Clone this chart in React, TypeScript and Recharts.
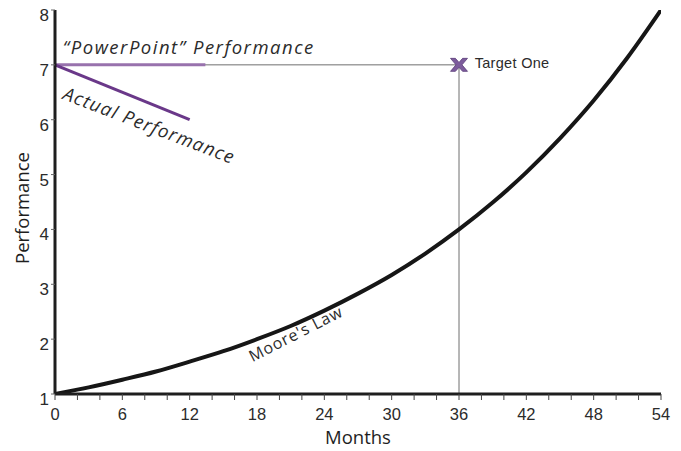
import React from 'react';
import {
  ComposedChart,
  Line,
  Scatter,
  XAxis,
  YAxis,
  ReferenceLine,
  ReferenceDot,
  Label,
} from 'recharts';

// Moore's Law curve (months, performance)
const mooreMonths = [0, 3, 6, 9, 12, 15, 18, 21, 24, 27, 30, 33, 36, 39, 42, 45, 48, 51, 54];
const mooreValues = [1, 1.12, 1.26, 1.41, 1.59, 1.78, 2, 2.24, 2.52, 2.83, 3.17, 3.56, 4, 4.49, 5.04, 5.66, 6.35, 7.13, 8];

const powerPointMonths = [0, 13.4];
const powerPointValues = [7, 7];

const actualMonths = [0, 12];
const actualValues = [7, 6];

const targetMonths = [36];
const targetValues = [7];

const monthTicks = [0, 2, 4, 6, 8, 10, 12, 14, 16, 18, 20, 22, 24, 26, 28, 30, 32, 34, 36, 38, 40, 42, 44, 46, 48, 50, 52, 54];
const labeledMonths = [0, 6, 12, 18, 24, 30, 36, 42, 48, 54];
const perfTicks = [1, 2, 3, 4, 5, 6, 7, 8];

const zip = (xs: number[], ys: number[]) => xs.map((x, i) => ({ x, y: ys[i] }));
const mooreData = zip(mooreMonths, mooreValues);
const powerPointData = zip(powerPointMonths, powerPointValues);
const actualData = zip(actualMonths, actualValues);
const targetData = zip(targetMonths, targetValues);

const LABEL_FONT = '"Open Sans", "Noto Sans", sans-serif';
const TICK_FONT = '"Liberation Sans", Arial, sans-serif';

const XMarker = (props: any) => {
  const { cx, cy } = props;
  if (cx == null || cy == null) return null;
  const pts = [
    [-8.5, -6.5], [-3.6, -6.5], [0, -2.4], [3.6, -6.5], [8.5, -6.5], [3, 0],
    [8.5, 6.5], [3.6, 6.5], [0, 2.4], [-3.6, 6.5], [-8.5, 6.5], [-3, 0],
  ]
    .map(([dx, dy]) => `${cx + dx},${cy + dy}`)
    .join(' ');
  return <polygon points={pts} fill="#7d5c9c" stroke="#5a3c78" strokeWidth={0.8} />;
};

const textShape = (
  text: string,
  opts: { rotate?: number; size: number; italic?: boolean; family?: string; spacing?: number }
) =>
  (props: any) => {
    const { cx, cy } = props;
    if (cx == null || cy == null) return null;
    return (
      <text
        x={cx}
        y={cy}
        fontSize={opts.size}
        fontStyle={opts.italic ? 'italic' : 'normal'}
        fontFamily={opts.family || LABEL_FONT}
        letterSpacing={opts.spacing || 0}
        fill="#2b2b2b"
        textAnchor="start"
        transform={opts.rotate ? `rotate(${opts.rotate} ${cx} ${cy})` : undefined}
      >
        {text}
      </text>
    );
  };

export default function App() {
  return (
    <div style={{ marginTop: -8 }}>
      <ComposedChart
        width={670}
        height={448}
        margin={{ top: 10, right: 17, bottom: 0, left: 0 }}
      >
        <XAxis
          type="number"
          dataKey="x"
          domain={[0, 54]}
          ticks={monthTicks}
          interval={0}
          allowDataOverflow
          tickFormatter={(v: number) => (labeledMonths.includes(v) ? String(v) : '')}
          height={54}
          axisLine={{ stroke: '#1e1e1e', strokeWidth: 3 }}
          tickLine={{ stroke: '#444', strokeWidth: 1 }}
          tickSize={6}
          tickMargin={8}
          tick={{ fill: '#2b2b2b', fontSize: 16.5, fontFamily: TICK_FONT }}
        >
          <Label
            content={(p: any) => {
              const vb = p.viewBox || {};
              return (
                <text
                  x={vb.x + vb.width / 2}
                  y={444}
                  textAnchor="middle"
                  fontSize={18.5}
                  fontFamily={LABEL_FONT}
                  fill="#1e1e1e"
                >
                  Months
                </text>
              );
            }}
          />
        </XAxis>
        <YAxis
          type="number"
          domain={[1, 8]}
          ticks={perfTicks}
          interval={0}
          allowDataOverflow
          width={47}
          axisLine={{ stroke: '#1e1e1e', strokeWidth: 3 }}
          tickLine={{ stroke: '#666', strokeWidth: 1 }}
          tickSize={4}
          tickMargin={2}
          tick={{ fill: '#2b2b2b', fontSize: 17, fontFamily: TICK_FONT, dy: 5 }}
        >
          <Label
            content={(p: any) => {
              const vb = p.viewBox || {};
              const cy = vb.y + vb.height / 2 + 6;
              return (
                <text
                  x={21}
                  y={cy}
                  textAnchor="middle"
                  fontSize={18.5}
                  fontFamily={LABEL_FONT}
                  fill="#1e1e1e"
                  transform={`rotate(-90 21 ${cy})`}
                >
                  Performance
                </text>
              );
            }}
          />
        </YAxis>

        <ReferenceLine
          segment={[{ x: 0, y: 7 }, { x: 36, y: 7 }]}
          stroke="#6e6e6e"
          strokeWidth={1}
          ifOverflow="visible"
        />
        <ReferenceLine
          segment={[{ x: 36, y: 1 }, { x: 36, y: 7 }]}
          stroke="#6e6e6e"
          strokeWidth={1}
          ifOverflow="visible"
        />

        <Line
          data={mooreData}
          dataKey="y"
          type="monotone"
          stroke="#161616"
          strokeWidth={4}
          dot={false}
          isAnimationActive={false}
        />
        <Line
          data={powerPointData}
          dataKey="y"
          type="linear"
          stroke="#9872ad"
          strokeWidth={3}
          dot={false}
          isAnimationActive={false}
        />
        <Line
          data={actualData}
          dataKey="y"
          type="linear"
          stroke="#6a3889"
          strokeWidth={3}
          dot={false}
          isAnimationActive={false}
        />
        <Scatter data={targetData} dataKey="y" shape={XMarker} isAnimationActive={false} />

        <ReferenceDot
          x={0.7}
          y={7.2}
          r={0}
          ifOverflow="visible"
          shape={textShape('\u201cPowerPoint\u201d  Performance', { size: 18.5, italic: true, spacing: 1.5 })}
        />
        <ReferenceDot
          x={0.6}
          y={6.38}
          r={0}
          ifOverflow="visible"
          shape={textShape('Actual Performance', { size: 18.5, italic: true, rotate: 21, spacing: 1.2 })}
        />
        <ReferenceDot
          x={17.6}
          y={1.58}
          r={0}
          ifOverflow="visible"
          shape={textShape("Moore's Law", { size: 16, rotate: -27, spacing: 0.8 })}
        />
        <ReferenceDot
          x={37.4}
          y={6.945}
          r={0}
          ifOverflow="visible"
          shape={textShape('Target One', { size: 14.5, family: TICK_FONT, spacing: 0.3 })}
        />
      </ComposedChart>
    </div>
  );
}
